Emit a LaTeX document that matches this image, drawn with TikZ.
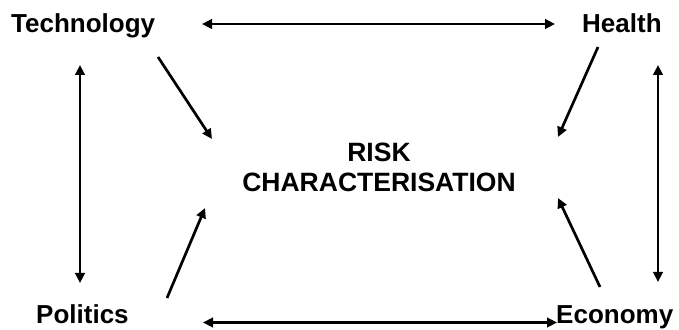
\documentclass[tikz,border=0pt]{standalone}
\usepackage{fontspec}
\setmainfont{Liberation Sans}
\usetikzlibrary{arrows.meta}
\begin{document}
\begin{tikzpicture}[x=1pt,y=1pt,
  lbl/.style={font=\fontsize{26}{30}\selectfont\bfseries, inner sep=0pt},
  ctr/.style={font=\fontsize{26.5}{30}\selectfont\bfseries, inner sep=0pt, align=center},
  arr/.style={line width=2.7pt, -{Triangle[length=10pt,width=9.5pt]}},
  darr/.style={line width=2.7pt, {Triangle[length=10pt,width=9.5pt]}-{Triangle[length=10pt,width=9.5pt]}}]
\useasboundingbox (0,0) rectangle (679,329);
\node[lbl, anchor=base west] (tech) at (11,296) {Technology};
\node[lbl, anchor=base west] (health) at (582,296) {Health};
\node[lbl, anchor=base west] (pol) at (36,6) {Politics};
\node[lbl, anchor=base west] (eco) at (556,6) {Economy};
\node[ctr, anchor=base] (risk) at (379,137) {RISK\\CHARACTERISATION};
% arrow end points
\coordinate (th1) at (202,305); \coordinate (th2) at (555,305);
\coordinate (pe1) at (203,6.5); \coordinate (pe2) at (557,6.5);
\coordinate (tp1) at (80,264); \coordinate (tp2) at (80,46);
\coordinate (he1) at (658,264); \coordinate (he2) at (658,47);
\coordinate (ts) at (158,272); \coordinate (tr) at (212,190);
\coordinate (hs) at (598,282); \coordinate (hr) at (558,192);
\coordinate (ps) at (167,31); \coordinate (pr) at (205,121);
\coordinate (es) at (600,42); \coordinate (er) at (558,131);
\draw[darr] (th1) -- (th2);
\draw[darr] (pe1) -- (pe2);
\draw[darr] (tp1) -- (tp2);
\draw[darr] (he1) -- (he2);
\draw[arr] (ts) -- (tr);
\draw[arr] (hs) -- (hr);
\draw[arr] (ps) -- (pr);
\draw[arr] (es) -- (er);
\end{tikzpicture}
\end{document}
